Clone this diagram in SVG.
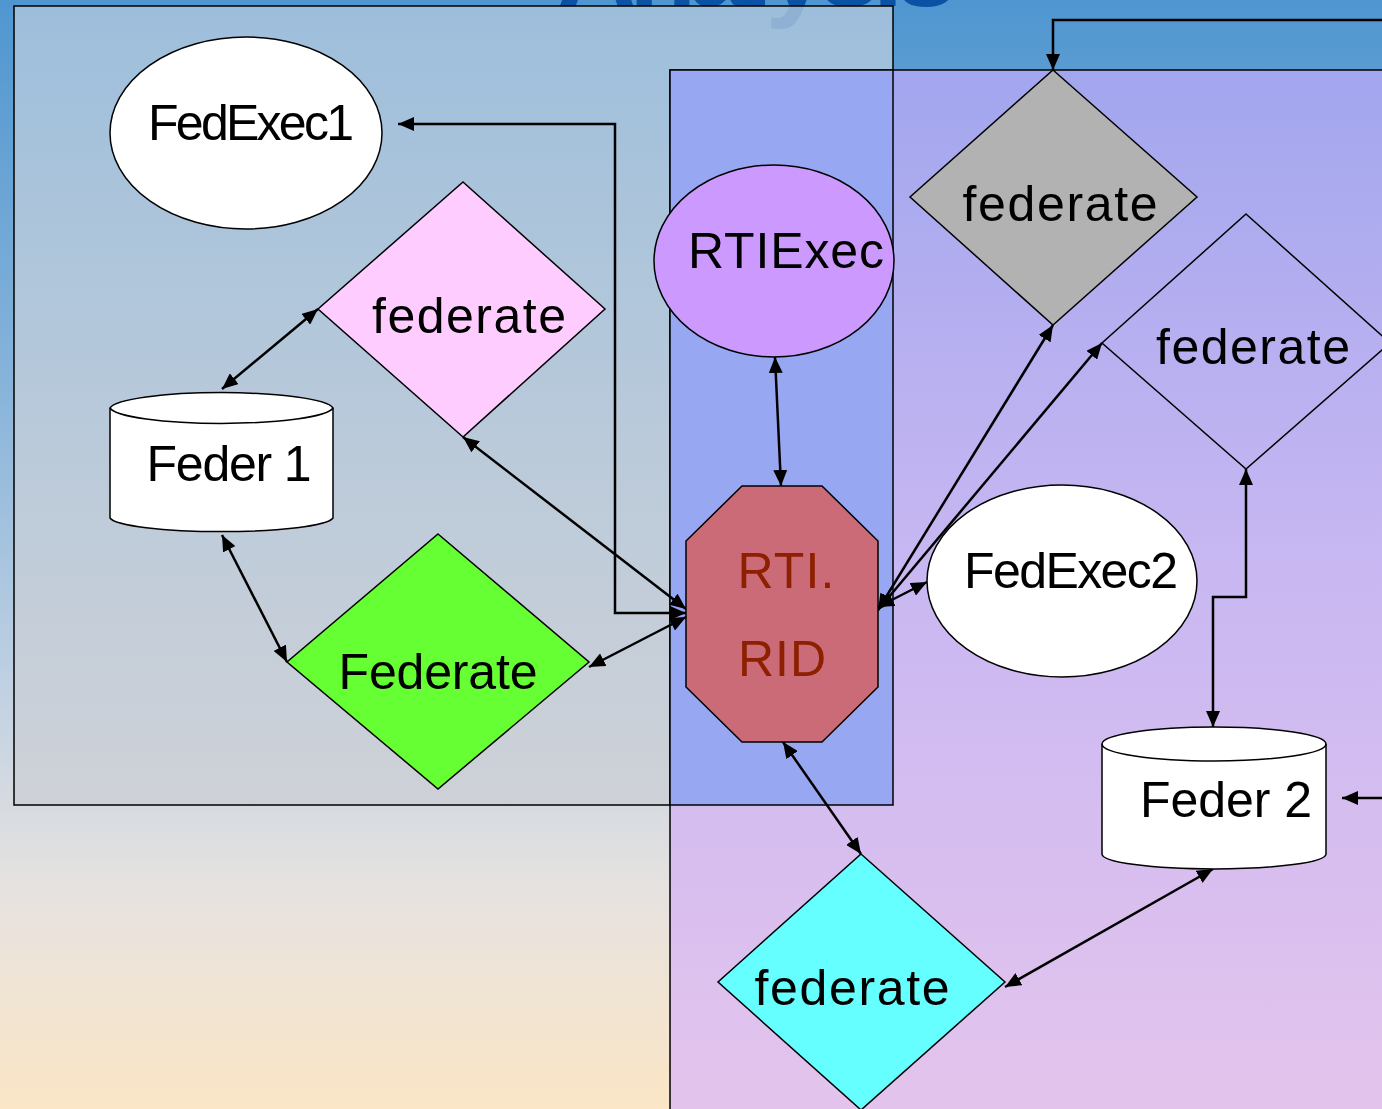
<svg xmlns="http://www.w3.org/2000/svg" width="1382" height="1109" viewBox="0 0 1382 1109">
<defs>
<linearGradient id="sky" x1="0" y1="0" x2="0" y2="1">
<stop offset="0" stop-color="#4f96d0"/>
<stop offset="0.35" stop-color="#88b4da"/>
<stop offset="0.6" stop-color="#bccfe2"/>
<stop offset="0.8" stop-color="#e6e2e0"/>
<stop offset="1" stop-color="#fbe6c6"/>
</linearGradient>
<linearGradient id="lav" x1="0" y1="0" x2="0" y2="1">
<stop offset="0" stop-color="#a2a6ee"/>
<stop offset="0.5" stop-color="#cab8f2"/>
<stop offset="1" stop-color="#e4c4ec"/>
</linearGradient>
<linearGradient id="leftbox" x1="0" y1="0" x2="0" y2="1">
<stop offset="0" stop-color="#b0c8de" stop-opacity="0.8"/>
<stop offset="1" stop-color="#cdd0d6" stop-opacity="0.92"/>
</linearGradient>
<marker id="ah" viewBox="0 0 16 14" markerWidth="16" markerHeight="14" refX="16" refY="7" orient="auto-start-reverse" markerUnits="userSpaceOnUse">
<path d="M0,0 L16,7 L0,14 z" fill="#000"/>
</marker>
<style>
.shape{stroke:#000;stroke-width:1.5}
.lbl{font-family:"Liberation Sans",Arial,sans-serif;font-size:50px;fill:#000;text-anchor:middle}
.rti{fill:#8c2000}
.conn{fill:none;stroke:#000;stroke-width:2.5;marker-start:url(#ah);marker-end:url(#ah)}
.one{fill:none;stroke:#000;stroke-width:2.5;marker-end:url(#ah)}
</style>
</defs>
<g id="background">
<rect x="0" y="0" width="1382" height="1109" fill="url(#sky)"/>
<text x="757" y="6" font-family="Liberation Sans, Arial, sans-serif" font-size="110" font-weight="bold" fill="#0a52a4" text-anchor="middle" textLength="400">Analysis</text>
<rect x="14" y="6" width="879" height="799" fill="url(#leftbox)" stroke="#000" stroke-width="1.5"/>
<rect x="670" y="70" width="730" height="1050" fill="url(#lav)" stroke="#000" stroke-width="1.5"/>
<rect x="670" y="70" width="223" height="735" fill="#97a7f1" stroke="#000" stroke-width="1.5"/>
</g>
<g id="connectors">
<path class="conn" d="M686,613 H615 V124 H398"/>
<path class="conn" d="M463,437 L686,609"/>
<path class="conn" d="M589,667 L686,617"/>
<path class="conn" d="M318,309 L222,389"/>
<path class="conn" d="M222,535 L287,662"/>
<path class="conn" d="M775,357 L781,486"/>
<path class="conn" d="M878,610 L1053,325"/>
<path class="conn" d="M878,610 L1102,343"/>
<path class="conn" d="M878,607 L927,582"/>
<path class="conn" d="M783,742 L861,854"/>
<path class="conn" d="M1005,987 L1213,869"/>
<path class="conn" d="M1246,469 V597 H1213 V727"/>
<path class="one" d="M1390,798 H1342"/>
<path class="one" d="M1390,20 H1053 V70"/>
</g>
<g id="fedexec1">
<ellipse class="shape" cx="246" cy="133" rx="136" ry="96" fill="#fff"/>
<text class="lbl" x="251" y="140" textLength="206">FedExec1</text>
</g>
<g id="federate-pink">
<polygon class="shape" points="463,182 605,309 463,437 318,309" fill="#ffccff"/>
<text class="lbl" x="469" y="333" textLength="194">federate</text>
</g>
<g id="feder1">
<path class="shape" d="M110,408 A112,17 0 0 1 333,408 V518 A112,15 0 0 1 110,518 Z" fill="#fff"/>
<path d="M110,408 A112,17 0 0 0 333,408" fill="none" stroke="#000" stroke-width="1.5"/>
<text class="lbl" x="229" y="481" textLength="165">Feder 1</text>
</g>
<g id="federate-green">
<polygon class="shape" points="438,534 589,662 438,789 287,662" fill="#66ff33"/>
<text class="lbl" x="438" y="689" textLength="199">Federate</text>
</g>
<g id="rtiexec">
<ellipse class="shape" cx="774" cy="261" rx="120" ry="96" fill="#cc99ff"/>
<text class="lbl" x="786" y="268" textLength="196">RTIExec</text>
</g>
<g id="rti-rid">
<polygon class="shape" points="742,486 822,486 878,541 878,687 822,742 742,742 686,687 686,541" fill="#cc6b78"/>
<text class="lbl rti" x="786" y="588" textLength="97">RTI.</text>
<text class="lbl rti" x="782" y="676" textLength="88">RID</text>
</g>
<g id="federate-gray">
<polygon class="shape" points="1053,70 1197,197 1053,325 910,197" fill="#b2b2b2"/>
<text class="lbl" x="1060" y="221" textLength="195">federate</text>
</g>
<g id="federate-clear">
<polygon class="shape" points="1246,214 1390,343 1246,469 1102,343" fill="none"/>
<text class="lbl" x="1253" y="364" textLength="194">federate</text>
</g>
<g id="fedexec2">
<ellipse class="shape" cx="1062" cy="581" rx="135" ry="96" fill="#fff"/>
<text class="lbl" x="1071" y="588" textLength="214">FedExec2</text>
</g>
<g id="feder2">
<path class="shape" d="M1102,744 A112,17 0 0 1 1326,744 V854 A112,15 0 0 1 1102,854 Z" fill="#fff"/>
<path d="M1102,744 A112,17 0 0 0 1326,744" fill="none" stroke="#000" stroke-width="1.5"/>
<text class="lbl" x="1226" y="817" textLength="172">Feder 2</text>
</g>
<g id="federate-cyan">
<polygon class="shape" points="861,854 1005,982 861,1110 718,982" fill="#66ffff"/>
<text class="lbl" x="852" y="1005" textLength="195">federate</text>
</g>
</svg>
